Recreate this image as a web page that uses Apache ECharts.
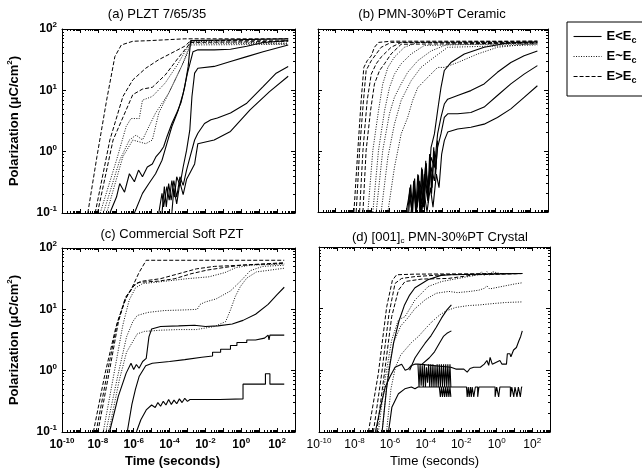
<!DOCTYPE html>
<html>
<head>
<meta charset="utf-8">
<script src="https://cdn.jsdelivr.net/npm/echarts@6.0.0/dist/echarts.min.js"></script>
<style>
html, body { margin: 0; padding: 0; background: #fff; }
#main { width: 642px; height: 474px; }
</style>
</head>
<body>
<div id="main"></div>
<script>
// every curve is a list of [log10(time in s), log10(P in uC/cm2)]

// (a) PLZT 7/65/35
var aSolid = [
  [[-7.33,-1],[-6.96,-0.74],[-6.78,-0.52],[-6.51,-0.66],[-6.24,-0.36],[-5.96,-0.49],[-5.73,-0.3],[-5.51,-0.41],[-5.24,-0.25],[-4.96,-0.2],[-4.75,-0.08],[-4.51,0],[-4.33,0.08],[-4.15,0.24],[-3.87,0.46],[-3.6,0.63],[-3.36,0.8],[-3.15,1.06],[-2.96,1.39],[-2.82,1.81],[2.62,1.84]],
  [[-5.96,-1],[-5.51,-0.68],[-5.15,-0.52],[-4.78,-0.36],[-4.42,-0.14],[-4.15,0.13],[-3.87,0.41],[-3.51,0.68],[-3.24,0.95],[-3,1.28],[-2.69,1.63],[-2.42,1.66],[-1.51,1.66],[-0.6,1.67],[0.31,1.72],[1.22,1.78],[2.62,1.81]],
  [[-4.6,-1],[-4.42,-0.68],[-4.33,-0.9],[-4.15,-0.57],[-4.02,-0.79],[-3.87,-0.47],[-3.73,-0.74],[-3.6,-0.41],[-3.42,-0.55],[-3.24,-0.25],[-3.05,0.02],[-2.87,0.35],[-2.75,0.9],[-2.6,1.28],[-2.42,1.36],[-1.51,1.39],[-0.6,1.47],[0.31,1.55],[1.22,1.63],[2.62,1.74]],
  [[-4.42,-1],[-4.29,-0.57],[-4.18,-0.9],[-4.05,-0.52],[-3.91,-0.79],[-3.76,-0.47],[-3.6,-0.74],[-3.42,-0.41],[-3.24,-0.55],[-3.05,-0.3],[-2.87,-0.1],[-2.6,0.19],[-2.42,0.3],[-2.05,0.46],[-1.69,0.52],[-1.33,0.55],[-0.6,0.63],[0.31,0.79],[1.22,1.06],[1.95,1.28],[2.62,1.39]],
  [[-3.87,-1],[-3.76,-0.6],[-3.6,-0.85],[-3.42,-0.5],[-3.24,-0.7],[-3.05,-0.45],[-2.87,-0.35],[-2.6,-0.2],[-2.42,0.13],[-1.51,0.19],[-0.6,0.33],[0.49,0.68],[1.58,0.98],[2.62,1.23]]
];
var aDotted = [
  [[-7.87,-1],[-6.96,-0.14],[-6.42,0.41],[-6.15,0.54],[-5.69,0.54],[-5.51,0.84],[-4.96,0.9],[-4.24,1.12],[-3.51,1.44],[-2.82,1.8],[2.62,1.77]],
  [[-7.69,-1],[-6.78,-0.14],[-6.24,0.19],[-5.87,0.27],[-5.51,0.19],[-5.15,0.41],[-4.78,0.63],[-4.05,0.95],[-3.33,1.39],[-2.82,1.77],[2.62,1.76]],
  [[-7.51,-1],[-6.6,-0.08],[-6.05,0.19],[-5.33,0.13],[-4.96,0.19],[-4.6,0.63],[-3.87,1.06],[-3.15,1.5],[-2.82,1.74],[2.62,1.75]]
];
var aDashed = [
  [[-8.56,-1],[-8.05,-0.08],[-7.51,0.84],[-7.05,1.55],[-6.69,1.74],[-6.05,1.8],[-5.15,1.81],[-3.15,1.84],[2.62,1.84]],
  [[-8.15,-1],[-7.33,0.19],[-6.6,0.9],[-6.05,1.17],[-5.33,1.36],[-4.6,1.5],[-3.87,1.61],[-3.15,1.72],[-2.82,1.81],[2.62,1.82]],
  [[-8.02,-1],[-7.15,0.19],[-6.42,0.68],[-6.05,0.93],[-5.51,1.02],[-4.96,1.05],[-4.24,1.25],[-3.51,1.53],[-2.82,1.78],[2.62,1.8]]
];

// (b) PMN-30%PT Ceramic
var bSolid = [
  [[-5.02,-1],[-4.83,-0.7],[-4.7,-0.97],[-4.55,-0.6],[-4.4,-0.92],[-4.25,-0.49],[-4.08,-0.81],[-3.93,-0.27],[-3.76,-0.6],[-3.61,0.06],[-3.42,0.28],[-3.24,0.66],[-3.05,1.04],[-2.86,1.32],[-2.49,1.45],[-1.73,1.59],[-0.61,1.7],[0.71,1.77],[2.4,1.79]],
  [[-4.74,-1],[-4.59,-0.65],[-4.44,-0.97],[-4.29,-0.54],[-4.14,-0.87],[-3.99,-0.38],[-3.8,-0.7],[-3.61,-0.1],[-3.42,-0.27],[-3.24,0.28],[-3.05,0.55],[-2.86,0.77],[-2.67,0.85],[-2.11,0.91],[-1.36,0.99],[-0.61,1.1],[0.14,1.29],[0.9,1.45],[1.65,1.56],[2.4,1.64]],
  [[-4.46,-1],[-4.27,-0.65],[-4.12,-0.97],[-3.95,-0.49],[-3.8,-0.81],[-3.61,-0.27],[-3.42,-0.49],[-3.24,0.06],[-3.05,0.28],[-2.86,0.55],[-2.67,0.61],[-2.11,0.61],[-1.36,0.63],[-0.61,0.72],[0.14,0.91],[0.9,1.1],[1.65,1.26],[2.4,1.4]],
  [[-4.18,-1],[-3.99,-0.7],[-3.84,-1],[-3.65,-0.6],[-3.5,-0.92],[-3.31,-0.38],[-3.16,-0.6],[-3.01,-0.05],[-2.86,0.17],[-2.67,0.31],[-2.11,0.36],[-1.36,0.39],[-0.61,0.44],[0.14,0.55],[0.9,0.69],[1.65,0.88],[2.4,1.07]],
  [[-4.93,-1],[-4.81,-0.6],[-4.7,-1],[-4.59,-0.49],[-4.48,-1],[-4.36,-0.38],[-4.25,-0.97],[-4.14,-0.27],[-4.03,-0.92],[-3.91,-0.16],[-3.8,-0.81],[-3.69,-0.05],[-3.58,-0.7],[-3.46,0.06],[-3.35,-0.38],[-3.24,0.17]],
  [[-4.87,-1],[-4.76,-0.55],[-4.65,-1],[-4.54,-0.45],[-4.43,-1],[-4.32,-0.4],[-4.21,-1],[-4.1,-0.3],[-3.99,-0.95],[-3.88,-0.2],[-3.77,-0.85],[-3.66,-0.1],[-3.55,-0.6],[-3.44,0],[-3.33,-0.3]]
];
var bDotted = [
  [[-7.18,-1],[-6.9,0.01],[-6.58,0.66],[-6.34,1.1],[-6.05,1.37],[-5.68,1.54],[-5.12,1.7],[-4.36,1.78],[2.4,1.78]],
  [[-6.9,-1],[-6.58,0.01],[-6.24,0.66],[-5.96,1.04],[-5.68,1.26],[-5.3,1.43],[-4.74,1.59],[-3.99,1.73],[2.4,1.77]],
  [[-6.71,-1],[-6.34,0.01],[-5.96,0.61],[-5.68,0.88],[-5.3,1.1],[-4.93,1.29],[-4.36,1.48],[-3.61,1.64],[-2.67,1.75],[2.4,1.75]],
  [[-6.43,-1],[-6.05,-0.1],[-5.68,0.44],[-5.3,0.83],[-5.02,0.99],[-4.74,1.15],[-4.18,1.37],[-3.42,1.54],[-2.67,1.7],[2.4,1.74]],
  [[-6.05,-1],[-5.68,-0.27],[-5.3,0.28],[-4.93,0.55],[-4.65,0.83],[-4.36,1.04],[-3.99,1.15],[-3.24,1.37],[-2.86,1.37],[-2.11,1.45],[-0.98,1.59],[0.14,1.7],[2.4,1.77]]
];
var bDashed = [
  [[-7.97,-1],[-7.75,0.01],[-7.56,0.83],[-7.41,1.37],[-7.22,1.48],[-6.99,1.56],[-6.81,1.7],[-6.58,1.78],[-5.87,1.8],[2.4,1.8]],
  [[-7.84,-1],[-7.65,0.01],[-7.46,0.72],[-7.28,1.32],[-6.99,1.48],[-6.71,1.59],[-6.43,1.7],[-5.87,1.78],[2.4,1.8]],
  [[-7.65,-1],[-7.46,0.01],[-7.22,0.83],[-6.99,1.26],[-6.71,1.43],[-6.43,1.54],[-6.15,1.62],[-5.87,1.7],[-5.3,1.78],[2.4,1.78]],
  [[-7.46,-1],[-7.28,0.01],[-7.03,0.66],[-6.81,1.1],[-6.52,1.32],[-6.24,1.43],[-5.87,1.59],[-5.3,1.75],[2.4,1.77]]
];

// (c) Commercial Soft PZT
var cSolid = [
  [[-7.35,-1],[-6.86,-0.42],[-6.42,-0.04],[-6.15,0.12],[-6,0.02],[-5.85,0.1],[-5.7,0.04],[-5.5,0.15],[-5.3,0.2],[-5.15,0.55],[-5,0.68],[-4.5,0.72],[-3.5,0.73],[-2.6,0.74],[-2,0.72],[-1.3,0.73],[-0.5,0.76],[0.1,0.82],[0.8,0.92],[1.5,1.08],[2,1.24],[2.4,1.36]],
  [[-6.36,-1],[-6.1,-0.55],[-5.9,-0.3],[-5.69,-0.09],[-5.33,0.08],[-4.96,0.12],[-4,0.15],[-3.15,0.18],[-2.2,0.22],[-1.6,0.24],[-1.6,0.3],[-1.15,0.3],[-1.15,0.35],[-0.6,0.35],[-0.6,0.41],[-0.24,0.41],[-0.24,0.46],[0.31,0.46],[0.31,0.5],[0.8,0.5],[0.8,0.53],[1.3,0.53],[1.3,0.56],[1.5,0.58],[1.55,0.5],[1.6,0.58],[2.4,0.58]],
  [[-5.85,-1],[-5.6,-0.8],[-5.3,-0.64],[-5,-0.56],[-4.8,-0.6],[-4.65,-0.52],[-4.5,-0.58],[-4.35,-0.5],[-4.2,-0.56],[-4.05,-0.47],[-3.9,-0.55],[-3.75,-0.48],[-3.6,-0.54],[-3.45,-0.46],[-3.3,-0.52],[-3.15,-0.45],[-3,-0.5],[-2.86,-0.47],[-1.2,-0.47],[-1.2,-0.46],[0.1,-0.46],[0.1,-0.22],[1.35,-0.22],[1.35,-0.05],[1.6,-0.05],[1.6,-0.22],[2.4,-0.22]]
];
var cDotted = [
  [[-7.7,-1],[-7.1,-0.05],[-6.6,0.75],[-6.25,1.15],[-5.9,1.35],[-5.5,1.42],[-4.5,1.45],[-3,1.5],[-1.8,1.53],[-0.9,1.6],[-0.3,1.68],[0.5,1.72],[2.4,1.74]],
  [[-7.55,-1],[-6.9,-0.1],[-6.4,0.55],[-6.05,0.8],[-5.8,0.9],[-5.2,0.95],[-4.3,0.98],[-3.2,0.99],[-2.45,1],[-2.3,1.08],[-2,1.12],[-1.4,1.17],[-0.6,1.3],[0,1.47],[0.5,1.63],[1.2,1.7],[2.4,1.72]],
  [[-7.4,-1],[-6.8,-0.15],[-6.4,0.3],[-6.1,0.45],[-5.8,0.6],[-5.4,0.64],[-4.5,0.66],[-3.5,0.67],[-2.5,0.67],[-1.5,0.72],[-0.87,0.8],[-0.6,0.99],[-0.33,1.21],[-0.05,1.37],[0.31,1.51],[0.85,1.61],[2.4,1.67]]
];
var cDashed = [
  [[-8.25,-1],[-7.6,-0.05],[-7,0.7],[-6.5,1.15],[-6.1,1.35],[-5.7,1.6],[-5.3,1.8],[2.4,1.8]],
  [[-8.1,-1],[-7.45,0],[-6.9,0.8],[-6.4,1.2],[-6,1.38],[-5.7,1.44],[-4.6,1.46],[-3.7,1.5],[-2.8,1.58],[-1.9,1.64],[-1,1.68],[0,1.72],[2.4,1.76]],
  [[-8,-1],[-7.35,0],[-6.85,0.8],[-6.45,1.2],[-6.2,1.3],[-5.9,1.42],[-5.5,1.46],[-4.5,1.5],[-3.5,1.58],[-2.5,1.66],[-1.5,1.7],[2.4,1.75]]
];

// (d) [001]c PMN-30%PT Crystal
var dSolid = [
  [[-6.83,-1],[-6.5,-0.55],[-6.27,-0.27],[-6,-0.1],[-5.72,0.05],[-5.35,0.1],[-5.15,0],[-4.98,0.02],[-4.8,0.08],[-4.61,0.1],[-4.43,0.1],[-2.58,0.05],[-2.3,0.02],[-1.85,0.02],[-1.66,-0.03],[-1.5,0.03],[-1.29,0.05],[-0.92,0.05],[-0.7,0.1],[-0.55,0.16],[-0.45,0.08],[-0.37,0.21],[-0.25,0.1],[-0.18,0.1],[0.18,0.16],[0.3,0.1],[0.55,0.1],[0.6,0.27],[0.74,0.27],[0.8,0.22],[0.95,0.33],[1.11,0.37],[1.25,0.48],[1.35,0.55],[1.44,0.64]],
  [[-6.09,-1],[-5.9,-0.6],[-5.53,-0.38],[-5.17,-0.3],[-4.8,-0.27],[-4.6,-0.3],[-4.43,-0.27],[-2.58,-0.27],[-1.7,-0.27],[-1.66,-0.43],[-1.6,-0.27],[-1.55,-0.43],[-1.48,-0.27],[-1.43,-0.43],[-1.38,-0.27],[-1.29,-0.27],[-1.29,-0.43],[-1.2,-0.43],[-1.2,-0.27],[-1.07,-0.27],[-1.07,-0.43],[-1,-0.43],[-1,-0.27],[-0.09,-0.27],[-0.09,-0.43],[0,-0.43],[0,-0.27],[0.11,-0.27],[0.11,-0.43],[0.18,-0.43],[0.18,-0.27],[0.77,-0.27],[0.77,-0.43],[0.85,-0.43],[0.85,-0.27],[0.96,-0.27],[0.96,-0.43],[1.03,-0.43],[1.03,-0.27],[1.14,-0.27],[1.14,-0.43],[1.22,-0.43],[1.22,-0.27],[1.33,-0.27],[1.33,-0.43],[1.4,-0.43],[1.4,-0.27],[1.44,-0.27]],
  [[-4.43,0.1],[-4.37,-0.27],[-4.31,0.1],[-4.25,-0.25],[-4.19,0.08],[-4.13,-0.27],[-4.07,0.1],[-4.01,-0.27],[-3.95,0.05],[-3.89,-0.2],[-3.83,0.1],[-3.77,-0.27],[-3.71,0.1],[-3.65,-0.27],[-3.59,0.1],[-3.53,-0.27],[-3.47,0.08],[-3.41,-0.27],[-3.35,0.1],[-3.29,-0.27],[-3.23,0.1],[-3.17,-0.27],[-3.11,0.1],[-3.05,-0.27],[-2.99,0.1],[-2.93,-0.27],[-2.87,0.1],[-2.81,-0.27],[-2.75,0.1],[-2.69,-0.27],[-2.63,0.1],[-2.58,-0.27]],
  [[-3.23,-0.27],[-3.17,-0.43],[-3.11,-0.27],[-3.05,-0.43],[-2.99,-0.27],[-2.93,-0.43],[-2.87,-0.27],[-2.81,-0.43],[-2.75,-0.27],[-2.69,-0.43],[-2.63,-0.27],[-2.58,-0.43]],
  [[-4.9,0],[-4.6,0.2],[-4.3,0.33],[-4.03,0.44],[-3.7,0.56],[-3.4,0.7],[-3.1,0.85],[-2.8,0.98],[-2.55,1.06]],
  [[-4.2,0.1],[-3.8,0.2],[-3.5,0.3],[-3.2,0.45],[-3,0.55],[-2.8,0.6],[-2.55,0.64]],
  [[-6.45,-1],[-6.2,-0.3],[-6,0.1],[-5.8,0.45],[-5.5,0.8],[-5.2,1.05],[-4.9,1.22],[-4.6,1.34],[-3.87,1.47],[-3.14,1.54],[-2.6,1.55],[1.44,1.57]]
];
var dDotted = [
  [[-6.66,-1],[-6.29,-0.16],[-5.91,0.49],[-5.53,0.82],[-5.16,0.87],[-4.6,1.14],[-3.85,1.36],[-3.1,1.44],[-2.35,1.48],[-1.6,1.52],[-1,1.55],[-0.85,1.6],[-0.7,1.54],[-0.55,1.6],[-0.4,1.54],[-0.25,1.6],[0.2,1.57],[1.44,1.57]],
  [[-6.45,-1],[-6.1,0],[-5.8,0.45],[-5.4,0.72],[-5,0.85],[-4.6,1],[-4,1.15],[-3.4,1.25],[-2.7,1.28],[-2.2,1.26],[-1.5,1.28],[-1,1.3],[-0.7,1.33],[-0.55,1.37],[-0.4,1.32],[0.3,1.36],[1,1.4],[1.44,1.42]],
  [[-6.2,-1],[-5.95,-0.3],[-5.7,0.05],[-5.4,0.25],[-5.1,0.35],[-4.8,0.45],[-4.4,0.55],[-4,0.68],[-3.6,0.8],[-3.2,0.9],[-2.8,0.97],[-2.3,1.02],[-1.6,1.05],[-1,1.06],[-0.3,1.08],[0.5,1.1],[1.44,1.11]]
];
var dDashed = [
  [[-7.22,-1],[-6.66,-0.05],[-6.19,1.03],[-5.87,1.46],[-5.63,1.55],[-4.6,1.56],[1.44,1.57]],
  [[-6.94,-1],[-6.47,-0.05],[-6.06,0.92],[-5.72,1.41],[-5.35,1.49],[-4.6,1.52],[-3,1.55],[1.44,1.57]],
  [[-6.75,-1],[-6.32,-0.05],[-5.91,0.87],[-5.53,1.3],[-5.16,1.44],[-4.22,1.48],[-2.72,1.49],[-1.22,1.55],[1.44,1.57]]
];

var titles = ['(a) PLZT 7/65/35', '(b) PMN-30%PT Ceramic', '(c) Commercial Soft PZT', '(d) [001]{c|c} PMN-30%PT Crystal'];
var legendNames = ['E<Ec', 'E~Ec', 'E>Ec'];
var xLabelExp = [-10, -8, -6, -4, -2, 0, 2];
var yLabelExp = [-1, 0, 1, 2];

var FONT = '"Liberation Sans", Arial, Helvetica, sans-serif';
var tMin = 1e-10, tMax = 1e3, pMin = 0.1, pMax = 100;

// tick positions: decades and 2..9 between them
function decadeTicks(lo, hi) {
  var major = [], minor = [];
  for (var e = lo; e <= hi; e++) {
    major.push(Math.pow(10, e));
    if (e < hi) for (var k = 2; k <= 9; k++) minor.push(k * Math.pow(10, e));
  }
  return { major: major, minor: minor };
}
var xT = decadeTicks(-10, 3), yT = decadeTicks(-1, 2);
var xLabels = xLabelExp.map(function (e) { return Math.pow(10, e); });
var yLabels = yLabelExp.map(function (e) { return Math.pow(10, e); });

var grids = [
  { left: 62, top: 29, width: 233, height: 184 },
  { left: 318, top: 29, width: 230, height: 183 },
  { left: 62, top: 248, width: 233, height: 184 },
  { left: 319, top: 247, width: 231, height: 185 }
];
grids.forEach(function (g) { g.outerBoundsMode = 'none'; g.containLabel = false; });

function tickLabels(values, bold) {
  return {
    show: true, customValues: values, margin: 5, color: '#000',
    fontFamily: FONT, fontSize: 12, fontWeight: bold ? 'bold' : 'normal',
    formatter: function (v) { return '10{s|' + Math.round(Math.log(v) / Math.LN10) + '}'; },
    rich: { s: { fontSize: 8, color: '#000', fontFamily: FONT, fontWeight: bold ? 'bold' : 'normal', padding: [0, 0, 8, 0] } }
  };
}

function sideAxes(g, dim, labelsOn, bold) {
  var isX = dim === 'x';
  var ticks = isX ? xT : yT;
  var pos = isX ? ['bottom', 'top'] : ['left', 'right'];
  var out = [];
  pos.forEach(function (p, i) {
    var base = {
      type: 'log', logBase: 10, gridIndex: g, position: p,
      min: isX ? tMin : pMin, max: isX ? tMax : pMax,
      splitLine: { show: false }, silent: true
    };
    out.push(Object.assign({}, base, {
      axisLine: { show: true, onZero: false, lineStyle: { color: '#000', width: 1 } },
      axisTick: { show: true, inside: true, length: 4, customValues: ticks.major, lineStyle: { color: '#000', width: 1 } },
      axisLabel: (i === 0 && labelsOn) ? tickLabels(isX ? xLabels : yLabels, bold) : { show: false }
    }));
    out.push(Object.assign({}, base, {
      axisLine: { show: false, onZero: false },
      axisTick: { show: true, inside: true, length: 2, customValues: ticks.minor, lineStyle: { color: '#000', width: 1 } },
      axisLabel: { show: false }
    }));
  });
  return out;
}

var xAxes = [], yAxes = [];
[[false, false], [false, false], [true, true], [true, false]].forEach(function (f, g) {
  xAxes = xAxes.concat(sideAxes(g, 'x', f[0], f[1]));
});
[[true, true], [false, false], [true, true], [false, false]].forEach(function (f, g) {
  yAxes = yAxes.concat(sideAxes(g, 'y', f[0], f[1]));
});

// axis names
var yName = {
  name: 'Polarization (\u03bcC/cm{s|2})', nameLocation: 'middle', nameGap: 40, nameRotate: 90,
  nameTextStyle: { color: '#000', fontFamily: FONT, fontSize: 13, fontWeight: 'bold',
    rich: { s: { fontSize: 8, fontWeight: 'bold', color: '#000', fontFamily: FONT, padding: [0, 0, 8, 0] } } }
};
Object.assign(yAxes[0], yName);
Object.assign(yAxes[8], yName);
Object.assign(xAxes[8], {
  name: 'Time (seconds)', nameLocation: 'middle', nameGap: 23,
  nameTextStyle: { color: '#000', fontFamily: FONT, fontSize: 13, fontWeight: 'bold', padding: [0, 12, 0, 0] }
});
Object.assign(xAxes[12], {
  name: 'Time (seconds)', nameLocation: 'middle', nameGap: 23,
  nameTextStyle: { color: '#000', fontFamily: FONT, fontSize: 13, fontWeight: 'normal' }
});

var LINE = {
  'E<Ec': { color: '#000', width: 1.1, type: 'solid' },
  'E~Ec': { color: '#111', width: 1, type: [1, 1.5] },
  'E>Ec': { color: '#000', width: 1, type: [4, 2] }
};

var series = [];
function addCurves(curves, name, g) {
  curves.forEach(function (c) {
    series.push({
      type: 'line', name: name, xAxisIndex: 4 * g, yAxisIndex: 4 * g,
      data: c.map(function (p) { return [Math.pow(10, p[0]), Math.pow(10, p[1])]; }),
      symbol: 'none', showSymbol: false, silent: true, animation: false,
      lineStyle: LINE[name], emphasis: { disabled: true }, clip: true
    });
  });
}
[[aSolid, aDotted, aDashed], [bSolid, bDotted, bDashed], [cSolid, cDotted, cDashed], [dSolid, dDotted, dDashed]]
  .forEach(function (p, g) {
    addCurves(p[0], 'E<Ec', g);
    addCurves(p[1], 'E~Ec', g);
    addCurves(p[2], 'E>Ec', g);
  });

var titleCenters = [[157, 8], [432, 8], [172, 228], [440, 229]];
var titleOpts = titles.map(function (t, i) {
  return {
    text: t, left: titleCenters[i][0], top: titleCenters[i][1], textAlign: 'center', padding: 0,
    textStyle: { color: '#000', fontFamily: FONT, fontSize: 13, fontWeight: 'normal',
      rich: { c: { fontSize: 8, color: '#000', fontFamily: FONT, padding: [8, 0, 0, 0] } } }
  };
});

var chart = echarts.init(document.getElementById('main'), null, { renderer: 'canvas' });
chart.setOption({
  animation: false,
  backgroundColor: '#fff',
  textStyle: { fontFamily: FONT },
  title: titleOpts,
  grid: grids,
  xAxis: xAxes,
  yAxis: yAxes,
  legend: {
    data: legendNames.map(function (n) { return { name: n, itemStyle: { opacity: 0 }, lineStyle: LINE[n] }; }),
    orient: 'vertical', left: 567, top: 22, selectedMode: false,
    itemWidth: 28, itemHeight: 14, itemGap: 5,
    padding: [8, 60, 11, 6], borderColor: '#000', borderWidth: 1, backgroundColor: '#fff',
    formatter: function (n) { return n.slice(0, -1) + '{c|c}'; },
    textStyle: { color: '#000', fontFamily: FONT, fontSize: 13, fontWeight: 'bold',
      rich: { c: { fontSize: 9, fontWeight: 'bold', color: '#000', fontFamily: FONT, padding: [8, 0, 0, 0] } } }
  },
  series: series
});
</script>
</body>
</html>
